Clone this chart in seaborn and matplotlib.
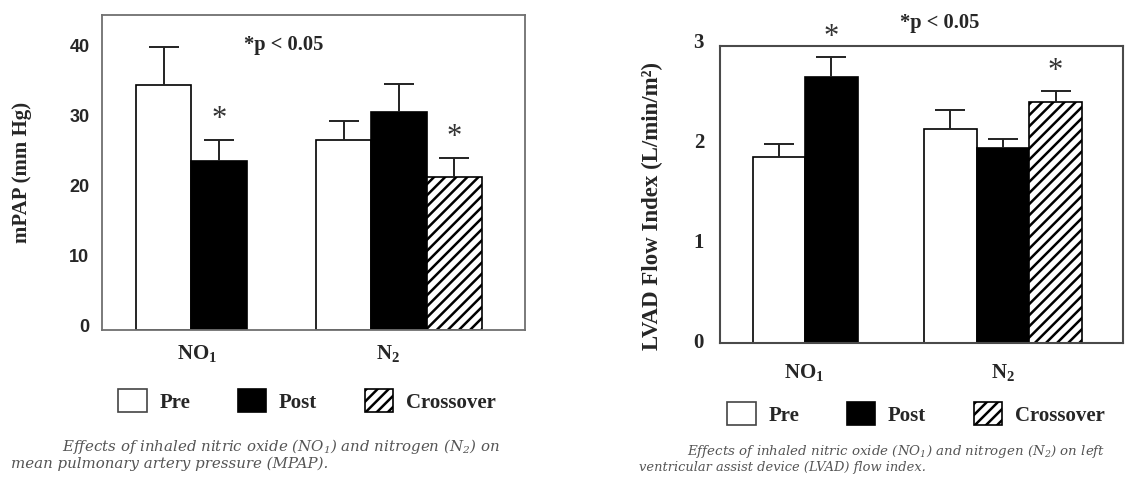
import numpy as np
import pandas as pd
import matplotlib
matplotlib.use("Agg")
import matplotlib.pyplot as plt
import matplotlib.transforms as mtransforms
from matplotlib.patches import Patch
import seaborn as sns

# ---- data -------------------------------------------------------------
phases = ["Pre", "Post", "Crossover"]
gas_labels = ["NO$_1$", "N$_2$"]
bar_gas = ["NO$_1$", "NO$_1$", "N$_2$", "N$_2$", "N$_2$"]
bar_phase = ["Pre", "Post", "Pre", "Post", "Crossover"]

mpap_mean = [35.0, 24.2, 27.2, 31.1, 21.8]
mpap_err = [5.5, 3.0, 2.7, 4.0, 2.8]
mpap_sig = [False, True, False, False, True]

lvad_mean = [1.86, 2.66, 2.14, 1.95, 2.41]
lvad_err = [0.13, 0.20, 0.19, 0.09, 0.11]
lvad_sig = [False, True, False, False, True]

mpap_ticks = [0, 10, 20, 30, 40]
lvad_ticks = [0, 1, 2, 3]

# ---- style ------------------------------------------------------------
sns.set_theme(style="white")
plt.rcParams["font.family"] = ["Liberation Serif", "DejaVu Serif"]
plt.rcParams["mathtext.default"] = "regular"
plt.rcParams["hatch.linewidth"] = 1.8
plt.rcParams["hatch.color"] = "black"

palette = {"Pre": "white", "Post": "black", "Crossover": "white"}
HATCH = "///"

fig = plt.figure(figsize=(11.26, 4.8), dpi=100)
fig.patch.set_facecolor("white")
ax1 = fig.add_axes([102 / 1126, 1 - 330 / 480, 423 / 1126, 315 / 480])
ax2 = fig.add_axes([720 / 1126, 1 - 343 / 480, 403 / 1126, 297 / 480])


def draw_panel(ax, means, errs, sig, tick_pos, spine_color, spine_lw):
    df = pd.DataFrame({"gas": bar_gas, "phase": bar_phase,
                       "value": means, "err": errs, "sig": sig})
    sns.barplot(data=df, x="gas", y="value", hue="phase",
                order=gas_labels, hue_order=phases, palette=palette,
                width=0.92, saturation=1, edgecolor="black", linewidth=1.2,
                errorbar=None, legend=False, ax=ax)

    xs, tops, es, flags = [], [], [], []
    for phase, cont in zip(phases, ax.containers):
        rows = [i for i in df.index if df.phase[i] == phase]
        rows.sort(key=lambda i: gas_labels.index(df.gas[i]))
        for bar, i in zip(cont, rows):
            xs.append(bar.get_x() + bar.get_width() / 2)
            tops.append(df.value[i])
            es.append(df.err[i])
            flags.append(df.sig[i])
            if phase == "Crossover":
                bar.set_hatch(HATCH)

    eb = ax.errorbar(xs, tops, yerr=[np.zeros(len(es)), es], fmt="none",
                     ecolor="#222222", elinewidth=1.4, capsize=10.5,
                     capthick=1.4, zorder=3)
    eb[1][0].set_visible(False)  # hide the zero-length lower caps

    for x, t, e, f in zip(xs, tops, es, flags):
        if f:
            ax.annotate("*", xy=(x, t + e), xytext=(0, 9),
                        textcoords="offset points", ha="center",
                        va="baseline", fontsize=22, color="#333333")

    ax.set_xlim(-0.65, 1.70)
    ax.set_xticks(tick_pos, gas_labels, fontweight="bold", fontsize=15)
    ax.set_xlabel("")
    ax.tick_params(length=0)
    for s in ax.spines.values():
        s.set_visible(True)
        s.set_color(spine_color)
        s.set_linewidth(spine_lw)


def raise_ylabels(ax, px):
    # nudge the y tick labels upward by a few pixels
    shift = mtransforms.ScaledTranslation(0, px / 100, fig.dpi_scale_trans)
    for tick in ax.yaxis.get_major_ticks():
        tick.label1.set_transform(tick.label1.get_transform() + shift)


# ---- left panel: mPAP --------------------------------------------------
draw_panel(ax1, mpap_mean, mpap_err, mpap_sig, [-0.12, 0.94], "#707070", 1.3)
ax1.set_ylim(0, 45)
ax1.set_yticks(mpap_ticks, [str(t) for t in mpap_ticks],
               fontfamily="Liberation Sans", fontweight="bold", fontsize=13)
ax1.tick_params(axis="y", pad=9)
ax1.tick_params(axis="x", pad=9)
raise_ylabels(ax1, 4)
ax1.set_ylabel("mPAP (mm Hg)", fontweight="bold", fontsize=15)
ax1.yaxis.set_label_coords(-0.165, 0.5)
ax1.text(0.36, 40.7, "*p < 0.05", ha="center", va="center",
         fontweight="bold", fontsize=14.8)

# ---- right panel: LVAD flow index --------------------------------------
draw_panel(ax2, lvad_mean, lvad_err, lvad_sig, [-0.16, 1.0], "#4a4a4a", 1.5)
ax2.set_ylim(0, 2.97)
ax2.set_yticks(lvad_ticks[:-1], [str(t) for t in lvad_ticks[:-1]],
               fontweight="bold", fontsize=15)
ax2.tick_params(axis="y", pad=11.5)
ax2.tick_params(axis="x", pad=13.5)
raise_ylabels(ax2, 3)
ax2.annotate(str(lvad_ticks[-1]), xy=(0, lvad_ticks[-1]),
             xycoords=("axes fraction", "data"), xytext=(-11.5, 2),
             textcoords="offset points", ha="right", va="center_baseline",
             fontweight="bold", fontsize=15)
ax2.set_ylabel("LVAD Flow Index (L/min/m²)", fontweight="bold", fontsize=16.5)
ax2.yaxis.set_label_coords(-0.141, 0.46)
ax2.text(0.63, 3.2, "*p < 0.05", ha="center", va="center",
         fontweight="bold", fontsize=14.8)

# ---- legends ------------------------------------------------------------
def legend_handles():
    return [Patch(facecolor="white", edgecolor="#444444", linewidth=1.2),
            Patch(facecolor="black", edgecolor="black", linewidth=1.2),
            Patch(facecolor="white", edgecolor="black", linewidth=1.2,
                  hatch=HATCH)]

leg_kw = dict(loc="center", ncol=3, frameon=False, handlelength=1.35,
              handleheight=1.3, handletextpad=0.62, columnspacing=2.28,
              prop={"family": "Liberation Serif", "weight": "bold",
                    "size": 15})
fig.legend(legend_handles(), phases, bbox_to_anchor=(307 / 1126, 1 - 401 / 480),
           **leg_kw)
fig.legend(legend_handles(), phases, bbox_to_anchor=(916 / 1126, 1 - 414 / 480),
           **leg_kw)

# ---- captions ------------------------------------------------------------
cap_kw = dict(ha="left", va="center", style="italic", color="#555555",
              family=["DejaVu Serif"])
fig.text(62 / 1126, 1 - 446 / 480,
         "Effects of inhaled nitric oxide (NO$_1$) and nitrogen (N$_2$) on",
         fontsize=10.8, **cap_kw)
fig.text(11 / 1126, 1 - 464 / 480,
         "mean pulmonary artery pressure (MPAP).", fontsize=10.8, **cap_kw)
fig.text(687 / 1126, 1 - 451 / 480,
         "Effects of inhaled nitric oxide (NO$_1$) and nitrogen (N$_2$) on left",
         fontsize=9.6, **cap_kw)
fig.text(639 / 1126, 1 - 467 / 480,
         "ventricular assist device (LVAD) flow index.", fontsize=9.4,
         **cap_kw)

fig.savefig("out.png", dpi=100, facecolor="white")
